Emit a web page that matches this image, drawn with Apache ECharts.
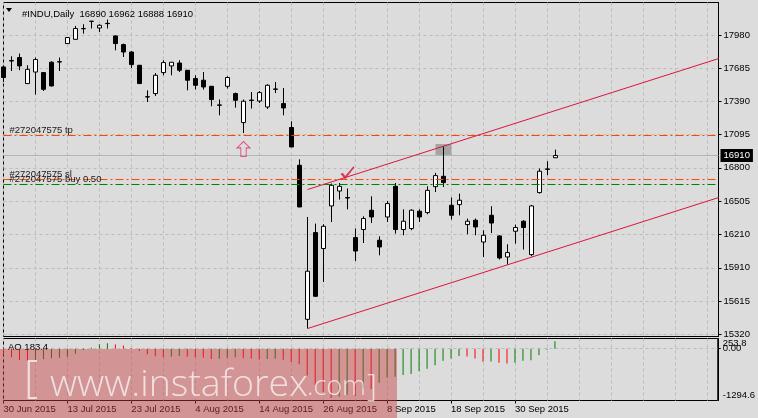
<!DOCTYPE html>
<html><head><meta charset="utf-8">
<script src="https://cdn.jsdelivr.net/npm/echarts@6/dist/echarts.min.js"></script>
<style>html,body{margin:0;padding:0;background:#dcdcdc}#c{width:758px;height:418px}</style>
</head><body><div id="c"></div>
<script>
// ---------- data ----------
const symbolName = '#INDU,Daily';
const dates = ['30 Jun 2015','1 Jul 2015','2 Jul 2015','6 Jul 2015','7 Jul 2015','8 Jul 2015','9 Jul 2015','10 Jul 2015','13 Jul 2015','14 Jul 2015','15 Jul 2015','16 Jul 2015','17 Jul 2015','20 Jul 2015','21 Jul 2015','22 Jul 2015','23 Jul 2015','24 Jul 2015','27 Jul 2015','28 Jul 2015','29 Jul 2015','30 Jul 2015','31 Jul 2015','3 Aug 2015','4 Aug 2015','5 Aug 2015','6 Aug 2015','7 Aug 2015','10 Aug 2015','11 Aug 2015','12 Aug 2015','13 Aug 2015','14 Aug 2015','17 Aug 2015','18 Aug 2015','19 Aug 2015','20 Aug 2015','21 Aug 2015','24 Aug 2015','25 Aug 2015','26 Aug 2015','27 Aug 2015','28 Aug 2015','31 Aug 2015','1 Sep 2015','2 Sep 2015','3 Sep 2015','4 Sep 2015','8 Sep 2015','9 Sep 2015','10 Sep 2015','11 Sep 2015','14 Sep 2015','15 Sep 2015','16 Sep 2015','17 Sep 2015','18 Sep 2015','21 Sep 2015','22 Sep 2015','23 Sep 2015','24 Sep 2015','25 Sep 2015','28 Sep 2015','29 Sep 2015','30 Sep 2015','1 Oct 2015','2 Oct 2015','5 Oct 2015','6 Oct 2015','7 Oct 2015'];
const opens  = [17698,17755,17782,17550,17653,17648,17740,17745,17906,17944,18040,18105,18045,18086,17974,17897,17831,17713,17433,17461,17648,17707,17733,17669,17595,17580,17526,17360,17526,17461,17203,17403,17395,17342,17502,17372,17159,16823,15452,16224,16082,16461,16594,16535,16180,16251,16423,16156,16363,16636,16251,16260,16414,16402,16633,16725,16467,16473,16295,16334,16140,16378,16194,16007,16236,16325,16028,16580,16790,16890];
const highs  = [17710,17793,17817,17713,17782,17653,17749,17782,17965,18063,18078,18106,18078,18120,17980,17906,17838,17715,17490,17644,17758,17742,17758,17670,17624,17653,17528,17408,17615,17470,17408,17475,17484,17544,17564,17511,17214,16876,16363,16304,16298,16660,16665,16616,16260,16369,16547,16191,16505,16665,16431,16431,16431,16636,16755,16990,16536,16571,16349,16349,16245,16458,16200,16120,16295,16334,16470,16794,16859,16962];
const lows   = [17564,17662,17669,17548,17452,17484,17525,17662,17904,17942,17995,18040,18009,18040,17846,17787,17689,17548,17386,17440,17624,17624,17653,17490,17497,17497,17348,17268,17506,17336,17110,17328,17377,17324,17466,17268,16984,16450,15370,15651,15784,16318,16518,16431,15971,16131,16309,16022,16318,16215,16200,16245,16318,16387,16585,16630,16340,16378,16209,16200,16007,16220,15984,15939,16126,16073,16013,16571,16734,16888];
const closes = [17604,17751,17707,17677,17764,17499,17529,17742,17960,18040,18038,18104,18069,18084,17906,17831,17719,17550,17431,17624,17737,17740,17669,17580,17535,17520,17408,17357,17604,17402,17393,17400,17470,17535,17499,17333,16986,16452,15880,15657,16280,16645,16636,16532,16060,16349,16363,16096,16482,16251,16325,16423,16363,16600,16731,16669,16378,16512,16325,16274,16200,16309,15998,16046,16269,16269,16461,16770,16787,16910];
const aoValues = [-155,-216,-285,-300,-280,-262,-240,-225,-200,-130,-35,20,110,135,105,80,15,-60,-140,-190,-215,-200,-185,-200,-215,-230,-260,-250,-235,-220,-240,-255,-270,-260,-250,-280,-330,-390,-670,-900,-1080,-1235,-1200,-1150,-1180,-1000,-1010,-850,-720,-700,-656,-630,-562,-500,-414,-302,-244,-181,-198,-244,-328,-320,-354,-371,-354,-302,-290,-163,-26,183.4];
const priceTicks = [15320,15615,15910,16210,16505,16800,17095,17390,17685,17980];
const aoTicks = [-1294.6, 0, 253.8];
const orderId = '#272047575';
const tpLevel = 17088, slLevel = 16696, buyLevel = 16652, buyLots = '0.50';
const channelUpper = [[38,16607],[89.4,17773]];
const channelLower = [[38,15370],[89.4,16536]];
const arrowPoint = [30,16968];
const checkPoint = [43,16756];
const highlightBox = [[54,17012],[56,16915]];
const watermark = 'www.instaforex';

// ---------- chart ----------
const FONT = 'Liberation Sans';
const XMAX = 89.375;
const last = dates.length - 1;
const bid = closes[last];
const dash = {show:true, lineStyle:{color:'#bcbcbc', type:[3,3], width:1}};
const candleData = dates.map((d,i)=>[i, opens[i], closes[i], lows[i], highs[i]]);
const aoData = aoValues.map((v,i)=>({value:[i,v], itemStyle:{color:(i>0 && v>aoValues[i-1])?'#008000':'#ff0000'}}));
const labelIdx = dates.map((d,i)=>i).filter(i=>i%8===0);
const ddash = [8,3,2,3];
const plain = v => String(v);

// horizontal level drawn as a 2-point line series across the x range
function hLine(level, color, type, startLabel, endLabel, z) {
  const p0 = {value:[0, level]};
  const p1 = {value:[XMAX, level]};
  if (startLabel) p0.label = startLabel;
  if (endLabel) p1.label = endLabel;
  return {type:'line', xAxisIndex:0, yAxisIndex:0, z:z, silent:true, clip:false,
    symbol:'circle', symbolSize:0, showSymbol:true, itemStyle:{color:color},
    lineStyle:{color:color, type:type, width:1},
    label:{show:false},
    data:[p0, p1]};
}
const orderLabel = txt => ({show:true, position:[6,-10], formatter:txt, color:'#1a1a1a', fontSize:9.5, fontFamily:FONT});

const chart = echarts.init(document.getElementById('c'));
chart.setOption({
  animation:false,
  backgroundColor:'#dcdcdc',
  textStyle:{fontFamily:FONT},
  title:{text: symbolName + '  ' + [opens[last],highs[last],lows[last],closes[last]].join(' '), left:17, top:4,
         textStyle:{fontSize:9.5, fontWeight:'normal', color:'#000', fontFamily:FONT}},
  grid:[
    {left:3.5, top:2.5, width:715, height:334, show:true, borderColor:'#000', borderWidth:1, backgroundColor:'transparent'},
    {left:3.5, top:338.5, width:715, height:62, show:true, borderColor:'#000', borderWidth:1, backgroundColor:'transparent'}
  ],
  xAxis:[
    {gridIndex:0, type:'value', min:0, max:XMAX, interval:4, axisLine:{show:false,onZero:false}, axisTick:{show:false}, axisLabel:{show:false}, splitLine:dash},
    {gridIndex:1, type:'value', min:0, max:XMAX, interval:4, axisLine:{show:false,onZero:false}, axisTick:{show:false}, axisLabel:{show:false}, splitLine:dash},
    {gridIndex:1, type:'value', min:0, max:XMAX, position:'bottom', axisLine:{show:false,onZero:false},
     axisTick:{show:true, customValues:labelIdx, length:3, lineStyle:{color:'#000'}},
     axisLabel:{customValues:labelIdx, formatter:v=>dates[v]||'', align:'left', margin:4, color:'#000', fontSize:9.5, fontFamily:FONT},
     splitLine:{show:false}}
  ],
  yAxis:[
    {gridIndex:0, type:'value', position:'right', min:15299.1, max:18271.7,
     axisLine:{show:true,onZero:false,lineStyle:{color:'#000'}},
     axisTick:{show:true, customValues:priceTicks, length:3, lineStyle:{color:'#000'}},
     axisLabel:{customValues:priceTicks, formatter:plain, color:'#000', fontSize:9.5, fontFamily:FONT, margin:5},
     splitLine:dash},
    {gridIndex:1, type:'value', position:'right', min:aoTicks[0], max:aoTicks[2],
     axisLine:{show:true,onZero:false,lineStyle:{color:'#000'}},
     axisTick:{show:true, customValues:[aoTicks[1]], length:3, lineStyle:{color:'#000'}},
     axisLabel:{customValues:[aoTicks[1]], formatter:v=>v.toFixed(2), color:'#000', fontSize:9.5, fontFamily:FONT, margin:5},
     splitLine:dash},
    {gridIndex:1, type:'value', position:'right', min:aoTicks[0], max:aoTicks[2],
     axisLine:{show:false,onZero:false}, axisTick:{show:false}, splitLine:{show:false},
     axisLabel:{customValues:[aoTicks[2]], formatter:plain, verticalAlign:'top', color:'#000', fontSize:9.5, fontFamily:FONT, margin:5}},
    {gridIndex:1, type:'value', position:'right', min:aoTicks[0], max:aoTicks[2],
     axisLine:{show:false,onZero:false}, axisTick:{show:false}, splitLine:{show:false},
     axisLabel:{customValues:[aoTicks[0]], formatter:plain, verticalAlign:'bottom', color:'#000', fontSize:9.5, fontFamily:FONT, margin:5}}
  ],
  series:[
    hLine(bid, '#b4b4b4', 'solid', null,
      {show:true, position:'right', distance:2, formatter:String(bid), color:'#fff', backgroundColor:'#000', padding:[2,3,1,3], fontSize:9.5, fontFamily:FONT}, 1),
    {type:'candlestick', xAxisIndex:0, yAxisIndex:0, data:candleData, encode:{x:0, y:[1,2,3,4]}, barWidth:5, z:2,
     itemStyle:{color:'#ffffff', color0:'#000000', borderColor:'#000', borderColor0:'#000', borderWidth:1}},
    hLine(tpLevel, '#ff4500', ddash, orderLabel(orderId+' tp'), null, 3),
    hLine(slLevel, '#ff4500', ddash, orderLabel(orderId+' sl'), null, 3),
    hLine(buyLevel, '#008000', ddash, orderLabel(orderId+' buy '+buyLots), null, 3),
    {type:'line', xAxisIndex:0, yAxisIndex:0, data:[], z:3, silent:true,
     markArea:{silent:true, itemStyle:{color:'#a4a4a4'}, data:[[{coord:highlightBox[0]},{coord:highlightBox[1]}]]}},
    {type:'line', xAxisIndex:0, yAxisIndex:0, data:channelUpper, symbol:'none', z:4, silent:true, lineStyle:{color:'#dc143c', width:1}},
    {type:'line', xAxisIndex:0, yAxisIndex:0, data:channelLower, symbol:'none', z:4, silent:true, lineStyle:{color:'#dc143c', width:1}},
    {type:'scatter', xAxisIndex:0, yAxisIndex:0, z:5, silent:true, data:[arrowPoint],
     symbol:'path://M6,0 L12,6 L8.5,6 L8.5,14 L3.5,14 L3.5,6 L0,6 Z', symbolSize:[13,15],
     itemStyle:{color:'rgba(0,0,0,0)', borderColor:'#e5306a', borderWidth:1}},
    {type:'scatter', xAxisIndex:0, yAxisIndex:0, z:5, silent:true, data:[checkPoint],
     symbol:'path://M0,7 L2,6 L4,9 L11,0 L12,1 L4,12 Z', symbolSize:[14,13],
     itemStyle:{color:'#dc143c'}},
    {type:'bar', xAxisIndex:1, yAxisIndex:1, data:aoData, barWidth:1, z:2}
  ],
  graphic:[
    {type:'polygon', z:10, shape:{points:[[6,8],[12,8],[9,12]]}, style:{fill:'#000'}},
    {type:'text', z:10, x:8, y:342, style:{text:'AO ' + aoValues[last], fill:'#000', font:'9.5px "Liberation Sans"'}},
    {type:'rect', z:100, silent:true, shape:{x:0, y:349, width:397, height:69}, style:{fill:'rgba(200,60,62,0.45)'}},
    {type:'text', z:101, silent:true, x:24, y:401, style:{text:'[', fill:'rgba(255,255,255,0.7)', font:'300 44px "Open Sans"', verticalAlign:'bottom'}},
    {type:'text', z:101, silent:true, x:50, y:404, style:{text:watermark, fill:'rgba(255,255,255,0.7)', font:'300 37.5px "Open Sans"', verticalAlign:'bottom'}},
    {type:'text', z:101, silent:true, x:307, y:401, style:{text:'.com', fill:'rgba(255,255,255,0.7)', font:'300 27px "Open Sans"', verticalAlign:'bottom'}},
    {type:'text', z:101, silent:true, x:367, y:403, style:{text:']', fill:'rgba(255,255,255,0.7)', font:'300 31px "Open Sans"', verticalAlign:'bottom'}}
  ]
});
</script></body></html>
